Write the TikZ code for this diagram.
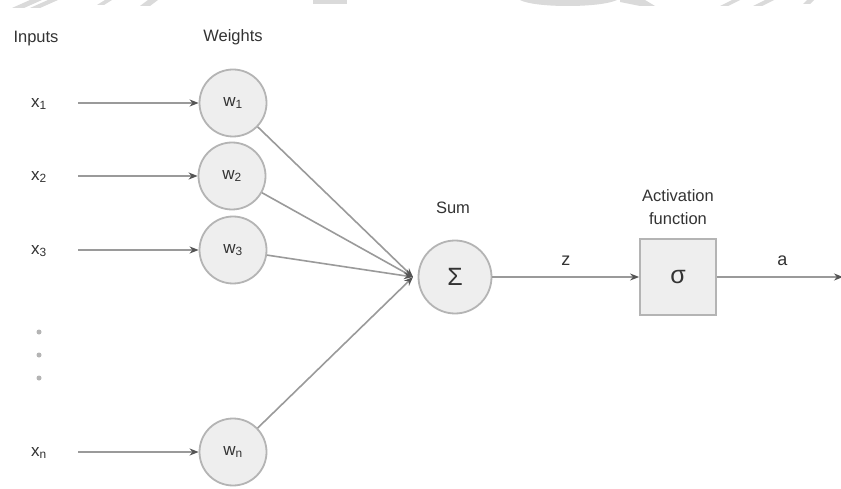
\documentclass[tikz,border=0pt]{standalone}
\usepackage{fontspec}
\setmainfont{Liberation Sans}
\usetikzlibrary{arrows.meta}
\definecolor{linegray}{HTML}{9A9A9A}
\definecolor{rimgray}{HTML}{B4B4B4}
\definecolor{fillgray}{HTML}{EEEEEE}
\definecolor{tipgray}{HTML}{555555}
\definecolor{txtgray}{HTML}{333333}
\definecolor{markgray}{HTML}{DADADA}
\tikzset{
  lbl/.style={text=txtgray, font=\fontsize{16.5}{20}\selectfont, inner sep=0pt},
  varlbl/.style={text=txtgray, font=\fontsize{17}{20}\selectfont, inner sep=0pt},
  weightnode/.style={circle, draw=rimgray, fill=fillgray, line width=1.8pt,
    minimum size=67pt, inner sep=0pt, text=txtgray, font=\fontsize{17}{20}\selectfont},
  sumnode/.style={circle, draw=rimgray, fill=fillgray, line width=1.8pt,
    minimum size=73pt, inner sep=0pt, text=txtgray, font=\fontsize{25}{28}\selectfont},
  actnode/.style={rectangle, draw=rimgray, fill=fillgray, line width=1.8pt,
    minimum size=76pt, inner sep=0pt, text=txtgray, font=\fontsize{25}{28}\selectfont},
  wire/.style={draw=linegray, line width=1.6pt,
    -{Stealth[length=9pt, width=7pt, fill=tipgray, color=tipgray]}},
  dotmark/.style={circle, fill=rimgray, minimum size=5pt, inner sep=0pt},
}
\begin{document}
\begin{tikzpicture}[x=1pt, y=-1pt]
\useasboundingbox (0,0) rectangle (841,489);
\fill[white] (0,0) rectangle (841,489);

% faint marks along the top edge
\begin{scope}[markgray]
  \fill (12,8) -- (24,8) -- (42,0) -- (30,0) -- cycle;
  \fill (30,8) -- (40,8) -- (58,0) -- (48,0) -- cycle;
  \fill (97,5) -- (104,5) -- (112,0) -- (105,0) -- cycle;
  \fill (140,6) -- (150,6) -- (158,0) -- (148,0) -- cycle;
  \fill (313,0) rectangle (347,4);
  \fill (520,0) .. controls (535,8) and (600,8) .. (617,0) -- cycle;
  \fill (620,2) -- (640,6) -- (655,6) -- (645,0) -- (620,0) -- cycle;
  \fill (720,6) -- (728,6) -- (740,0) -- (732,0) -- cycle;
  \fill (753,6) -- (762,6) -- (774,0) -- (765,0) -- cycle;
  \fill (803,4) -- (810,4) -- (814,0) -- (807,0) -- cycle;
\end{scope}

% column headings
\node[lbl] (hin) at (36,39) {Inputs};
\node[lbl] (hw) at (233,37) {Weights};

% inputs
\node[varlbl] (x1) at (39,104) {x\textsubscript{1}};
\node[varlbl] (x2) at (39,177) {x\textsubscript{2}};
\node[varlbl] (x3) at (39,251) {x\textsubscript{3}};
\node[varlbl] (xn) at (39,453) {x\textsubscript{n}};
\node[dotmark] (d1) at (39,332) {};
\node[dotmark] (d2) at (39,355) {};
\node[dotmark] (d3) at (39,378) {};

% weights
\node[weightnode] (w1) at (233,103) {w\textsubscript{1}};
\node[weightnode] (w2) at (232,176) {w\textsubscript{2}};
\node[weightnode] (w3) at (233,250) {w\textsubscript{3}};
\node[weightnode] (wn) at (233,452) {w\textsubscript{n}};

% input arrows start a little right of the labels
\coordinate (s1) at (78,103);
\coordinate (s2) at (78,176);
\coordinate (s3) at (78,250);
\coordinate (sn) at (78,452);
\draw[wire] (s1) -- (w1);
\draw[wire] (s2) -- (w2);
\draw[wire] (s3) -- (w3);
\draw[wire] (sn) -- (wn);

% summation
\node[sumnode] (sum) at (455,277) {Σ};
\node[lbl] (hsum) at (453,208) {Sum};
\coordinate (join) at (413,277);
\draw[wire] (w1) -- (join);
\draw[wire] (w2) -- (join);
\draw[wire] (w3) -- (join);
\draw[wire] (wn) -- (join);

% activation
\node[actnode] (act) at (678,277) {σ};
\node[lbl, align=center, font=\fontsize{16.5}{23}\selectfont] (hact) at (678,207) {Activation\\function};
\draw[wire] (sum) -- (act) node[midway, above=11pt, lbl, font=\fontsize{18}{20}\selectfont] (zl) {z};
\coordinate (out) at (843,277);
\draw[wire] (act) -- (out) node[pos=0.52, above=11pt, lbl, font=\fontsize{18}{20}\selectfont] (al) {a};
\end{tikzpicture}
\end{document}
